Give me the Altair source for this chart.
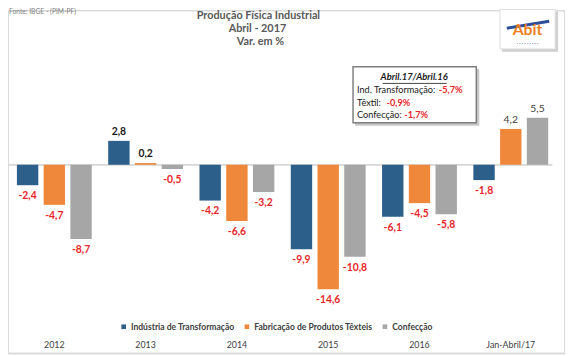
import altair as alt
import pandas as pd

years = ["2012", "2013", "2014", "2015", "2016", "Jan-Abril/17"]
series = ["Indústria de Transformação", "Fabricação de Produtos Têxteis", "Confecção"]
ind = [-2.4, 2.8, -4.2, -9.9, -6.1, -1.8]
tex = [-4.7, 0.2, -6.6, -14.6, -4.5, 4.2]
conf = [-8.7, -0.5, -3.2, -10.8, -5.8, 5.5]
colors = ["#2d5f8b", "#f0883c", "#a6a6a6"]

rows = []
for s, vals in zip(series, [ind, tex, conf]):
    for y, v in zip(years, vals):
        rows.append({"ano": y, "serie": s, "valor": v, "zero": 0.0,
                     "rotulo": f"{v:.1f}".replace(".", ","),
                     "grupo": "neg" if v < 0 else ("pos_jan" if y == "Jan-Abril/17" else "pos")})
df = pd.DataFrame(rows)
df_years = pd.DataFrame({"ano": years, "zero": [0.0] * len(years)})

FONT = "Lato"
def P(v):
    return v - 8

xscale = alt.Scale(domain=years, range=[P(8.7), P(564.3)], paddingInner=0.18, paddingOuter=0.09)
yscale = alt.Scale(domain=[-20, 10], range=[P(164.5) + 20 * 8.65, P(164.5) - 10 * 8.65], nice=False, zero=False)
xo = alt.XOffset("serie:N", sort=series, scale=alt.Scale(paddingInner=0.2, paddingOuter=0))
X = alt.X("ano:N", sort=years, scale=xscale, axis=None)
Y = alt.Y("valor:Q", scale=yscale, axis=None)

base = alt.Chart(df)

frame = alt.Chart(df_years).mark_rect(fill="white", stroke="#d9d9d9", strokeWidth=1).encode(
    x=alt.value(0.5), x2=alt.value(564.5), y=alt.value(0.5), y2=alt.value(347.5))

zero = alt.Chart(df_years).mark_rule(color="#d9d9d9", strokeWidth=1).encode(
    y=alt.Y("zero:Q", scale=yscale, axis=None), x=alt.value(P(7)), x2=alt.value(P(560)))

bars = base.mark_bar().encode(
    x=X, xOffset=xo, y=Y, y2="zero:Q",
    color=alt.Color("serie:N", sort=series, scale=alt.Scale(domain=series, range=colors),
                    legend=alt.Legend(orient="none", legendX=P(121), legendY=P(324), direction="horizontal",
                                      title=None, symbolType="square", symbolSize=22, symbolStrokeWidth=0,
                                      labelFont=FONT, labelFontSize=8.7, labelFontWeight="bold",
                                      labelColor="#404040", columnPadding=8, labelOffset=3)))

neg = base.transform_filter("datum.grupo == 'neg'").mark_text(
    font=FONT, fontSize=10.5, fontWeight="bold", color="#e8262a", baseline="middle", dy=11).encode(
    x=X, xOffset=xo, y=Y, text="rotulo:N")
pos = base.transform_filter("datum.grupo == 'pos'").mark_text(
    font=FONT, fontSize=10.5, fontWeight="bold", color="#1a1a1a", baseline="middle", dy=-9).encode(
    x=X, xOffset=xo, y=Y, text="rotulo:N")
posj = base.transform_filter("datum.grupo == 'pos_jan'").mark_text(
    font=FONT, fontSize=10.5, color="#404040", baseline="middle", dy=-9).encode(
    x=X, xOffset=xo, y=Y, text="rotulo:N")

xlabels = alt.Chart(df_years).mark_text(font=FONT, fontSize=9, color="#404040", baseline="middle").encode(
    x=X, y=alt.value(P(347)), text="ano:N")

one = alt.Chart(pd.DataFrame({"k": [0]}))

t_kw = dict(font=FONT, fontSize=11, fontWeight="bold", color="#595959", baseline="middle", align="center")
title1 = one.mark_text(text="Produção Física Industrial", **t_kw).encode(x=alt.value(P(262)), y=alt.value(P(14)))
title2 = one.mark_text(text="Abril - 2017", **t_kw).encode(x=alt.value(P(261)), y=alt.value(P(27)))
title3 = one.mark_text(text="Var. em %", **t_kw).encode(x=alt.value(P(264)), y=alt.value(P(40)))

fonte = one.mark_text(text="Fonte: IBGE - (PIM-PF)", font=FONT, fontSize=6.8, color="#7f7f7f",
                      align="left", baseline="middle").encode(x=alt.value(1), y=alt.value(P(10)))

box_shadow = one.mark_rect(fill="#c8c8c8").encode(
    x=alt.value(P(360)), x2=alt.value(P(486)), y=alt.value(P(67)), y2=alt.value(P(125)))
box = one.mark_rect(fill="white", stroke="#7f7f7f", strokeWidth=1.5).encode(
    x=alt.value(P(358)), x2=alt.value(P(483)), y=alt.value(P(65)), y2=alt.value(P(122)))
box_title = one.mark_text(text="Abril.17/Abril.16", font=FONT, fontSize=9.5, fontWeight="bold",
                          fontStyle="italic", color="#1a1a1a", align="center", baseline="middle").encode(
    x=alt.value(P(420)), y=alt.value(P(76)))
underline = one.mark_rule(color="#1a1a1a", strokeWidth=0.8).encode(
    x=alt.value(P(388)), x2=alt.value(P(453)), y=alt.value(P(82)))
lab_kw = dict(font=FONT, fontSize=9.3, color="#1a1a1a", align="left", baseline="middle")
val_kw = dict(font=FONT, fontSize=9.3, fontWeight="bold", color="#e8262a", align="left", baseline="middle")
l1 = one.mark_text(text="Ind. Transformação:", **lab_kw).encode(x=alt.value(P(362)), y=alt.value(P(89)))
v1 = one.mark_text(text="-5,7%", **val_kw).encode(x=alt.value(P(445)), y=alt.value(P(89)))
l2 = one.mark_text(text="Têxtil:", **lab_kw).encode(x=alt.value(P(362)), y=alt.value(P(102)))
v2 = one.mark_text(text="-0,9%", **val_kw).encode(x=alt.value(P(392)), y=alt.value(P(102)))
l3 = one.mark_text(text="Confecção:", **lab_kw).encode(x=alt.value(P(362)), y=alt.value(P(114)))
v3 = one.mark_text(text="-1,7%", **val_kw).encode(x=alt.value(P(410)), y=alt.value(P(114)))

logo_shadow = one.mark_rect(fill="#cfcfcf").encode(
    x=alt.value(P(509)), x2=alt.value(P(566)), y=alt.value(P(9)), y2=alt.value(P(50)))
logo_box = one.mark_rect(fill="white", stroke="#e0e0e0").encode(
    x=alt.value(P(507)), x2=alt.value(P(563)), y=alt.value(P(7)), y2=alt.value(P(47)))
logo_swoosh = one.mark_rule(color="#2d4f9a", strokeWidth=3).encode(
    x=alt.value(P(514)), x2=alt.value(P(557)), y=alt.value(P(26)), y2=alt.value(P(19)))
logo_txt = one.mark_text(text="Abit", font=FONT, fontSize=16, fontWeight="bold", color="#f07f22",
                         align="center", baseline="middle").encode(x=alt.value(P(535)), y=alt.value(P(28)))
logo_sub = one.mark_text(text="· · · · · · · · ·", font=FONT, fontSize=5, color="#2d4f9a",
                         align="center", baseline="middle").encode(x=alt.value(P(535)), y=alt.value(P(41)))

chart = alt.layer(
    frame, zero, bars, neg, pos, posj, xlabels, title1, title2, title3, fonte,
    box_shadow, box, box_title, underline, l1, v1, l2, v2, l3, v3,
    logo_shadow, logo_box, logo_swoosh, logo_txt, logo_sub
).properties(
    width=565, height=348, padding=0, autosize=alt.AutoSizeParams(type="none")
).configure_view(stroke=None).configure(background="white")

chart.save("out.html", embed_options={"renderer": "svg", "actions": False})
